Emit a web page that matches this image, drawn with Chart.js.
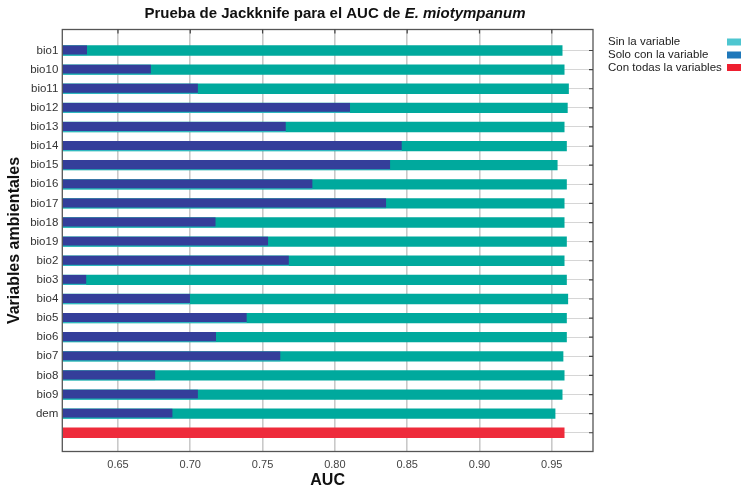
<!DOCTYPE html>
<html>
<head>
<meta charset="utf-8">
<script src="https://cdn.jsdelivr.net/npm/chart.js@4.4.1/dist/chart.umd.min.js"></script>
<style>
  html, body { margin: 0; padding: 0; background: #ffffff; }
  #wrap { width: 741px; height: 494px; position: relative; }
</style>
</head>
<body>
<div id="wrap"><canvas id="c" width="741" height="494"></canvas></div>
<script>
// ---- Data ----
const categories = ['bio1','bio10','bio11','bio12','bio13','bio14','bio15','bio16','bio17','bio18','bio19','bio2','bio3','bio4','bio5','bio6','bio7','bio8','bio9','dem'];
const sinLaVariable = [0.9574,0.9588,0.9618,0.9610,0.9588,0.9604,0.9540,0.9604,0.9588,0.9588,0.9604,0.9588,0.9604,0.9613,0.9604,0.9604,0.9580,0.9588,0.9574,0.9525];
const soloConLaVariable = [0.6286,0.6728,0.7053,0.8105,0.7661,0.8463,0.8383,0.7846,0.8355,0.7176,0.7539,0.7682,0.6282,0.6998,0.7391,0.7178,0.7624,0.6759,0.7053,0.6878];
const conTodasLasVariables = [0.9588];
const xTickValues = [0.65,0.70,0.75,0.80,0.85,0.90,0.95];
const legendLabels = ['Sin la variable','Solo con la variable','Con todas la variables'];
const legendColors = ['#4ec6d0','#1f78ba','#ee1f30'];
const titleMain = 'Prueba de Jackknife para el AUC de ';
const titleItalic = 'E. miotympanum';

// ---- Styling ----
const AXIS_MIN = 0.6115, AXIS_MAX = 0.9785;
const Y_MIN = -1.1, Y_MAX = 20.98;
const FONT = '"Liberation Sans", Arial, sans-serif';
const yLabels = categories.concat(['']);

const teal = '#00a99d', navy = '#343e9a', red = '#ee2b3b';

const toPoints = (arr, offset) => arr.map((v, i) => ({x: v, y: i + offset}));

const framePlugin = {
  id: 'frame',
  afterDraw(chart) {
    const ctx = chart.ctx, a = chart.chartArea;
    const xs = chart.scales.x, ys = chart.scales.y;
    ctx.save();
    ctx.strokeStyle = '#555';
    ctx.lineWidth = 1.3;
    ctx.strokeRect(a.left, a.top, a.right - a.left, a.bottom - a.top);
    ctx.lineWidth = 1.2;
    ctx.strokeStyle = '#444';
    ctx.beginPath();
    xTickValues.forEach(v => {
      const px = xs.getPixelForValue(v);
      ctx.moveTo(px, a.top); ctx.lineTo(px, a.top + 4);
    });
    yLabels.forEach((_, i) => {
      const py = ys.getPixelForValue(i);
      ctx.moveTo(a.right, py); ctx.lineTo(a.right - 4, py);
    });
    ctx.stroke();

    // title (mixed normal / italic)
    ctx.fillStyle = '#111';
    ctx.textBaseline = 'middle';
    ctx.textAlign = 'left';
    const f1 = 'bold 15px ' + FONT, f2 = 'italic bold 15px ' + FONT;
    ctx.font = f1; const w1 = ctx.measureText(titleMain).width;
    ctx.font = f2; const w2 = ctx.measureText(titleItalic).width;
    const cx = 335, cy = 14;
    const x0 = cx - (w1 + w2) / 2;
    ctx.font = f1; ctx.fillText(titleMain, x0, cy);
    ctx.font = f2; ctx.fillText(titleItalic, x0 + w1, cy);

    // legend (text left, swatch at right)
    ctx.font = '11.5px ' + FONT;
    const ly = [42, 55, 67.5];
    legendLabels.forEach((t, i) => {
      ctx.fillStyle = '#222';
      ctx.fillText(t, 608, ly[i]);
      ctx.fillStyle = legendColors[i];
      ctx.fillRect(727, ly[i] - 3.5, 14, 7);
    });
    ctx.restore();
  }
};

new Chart(document.getElementById('c'), {
  type: 'bar',
  data: {
    datasets: [
      {
        label: legendLabels[1],
        data: toPoints(soloConLaVariable, 0),
        backgroundColor: navy,
        borderColor: '#2fb8c0',
        borderWidth: {top: 0, right: 0, bottom: 1.2, left: 0},
        borderSkipped: 'start',
        order: 0,
        grouped: false,
        base: AXIS_MIN,
        categoryPercentage: 1,
        barPercentage: 0.54
      },
      {
        label: legendLabels[0],
        data: toPoints(sinLaVariable, 0),
        backgroundColor: teal,
        order: 1,
        grouped: false,
        base: AXIS_MIN,
        categoryPercentage: 1,
        barPercentage: 0.54
      },
      {
        label: legendLabels[2],
        data: toPoints(conTodasLasVariables, categories.length),
        backgroundColor: red,
        order: 2,
        grouped: false,
        base: AXIS_MIN,
        categoryPercentage: 1,
        barPercentage: 0.54
      }
    ]
  },
  options: {
    indexAxis: 'y',
    responsive: false,
    animation: false,
    devicePixelRatio: 1,
    layout: { padding: { top: 29.5, right: 148, left: 0, bottom: 0 } },
    plugins: {
      legend: { display: false },
      tooltip: { enabled: false },
      title: { display: false }
    },
    scales: {
      x: {
        type: 'linear',
        position: 'bottom',
        min: AXIS_MIN,
        max: AXIS_MAX,
        offset: false,
        afterBuildTicks: s => { s.ticks = xTickValues.map(v => ({value: v})); },
        afterFit: s => { s.height = 42.5; },
        grid: { color: '#c9c9c9', lineWidth: 1.6, drawTicks: false, offset: false },
        border: { display: false },
        ticks: {
          padding: 7,
          color: '#444',
          font: { family: FONT, size: 11 },
          callback: v => Number(v).toFixed(2)
        },
        title: {
          display: true,
          text: 'AUC',
          color: '#111',
          font: { family: FONT, size: 16, weight: 'bold' },
          padding: { top: 0, bottom: 3.5 }
        }
      },
      y: {
        type: 'linear',
        position: 'left',
        reverse: true,
        min: Y_MIN,
        max: Y_MAX,
        offset: false,
        afterBuildTicks: s => { s.ticks = yLabels.map((_, i) => ({value: i})); },
        afterFit: s => { s.width = 62.3; },
        grid: { color: '#d6d6d6', lineWidth: 1, drawTicks: false, offset: false },
        border: { display: false },
        ticks: {
          padding: 4,
          color: '#333',
          autoSkip: false,
          font: { family: FONT, size: 11.5 },
          callback: v => yLabels[v] !== undefined ? yLabels[v] : ''
        },
        title: {
          display: true,
          text: 'Variables ambientales',
          color: '#111',
          font: { family: FONT, size: 16, weight: 'bold' },
          padding: { top: 5, bottom: 0 }
        }
      }
    }
  },
  plugins: [framePlugin]
});
</script>
</body>
</html>
